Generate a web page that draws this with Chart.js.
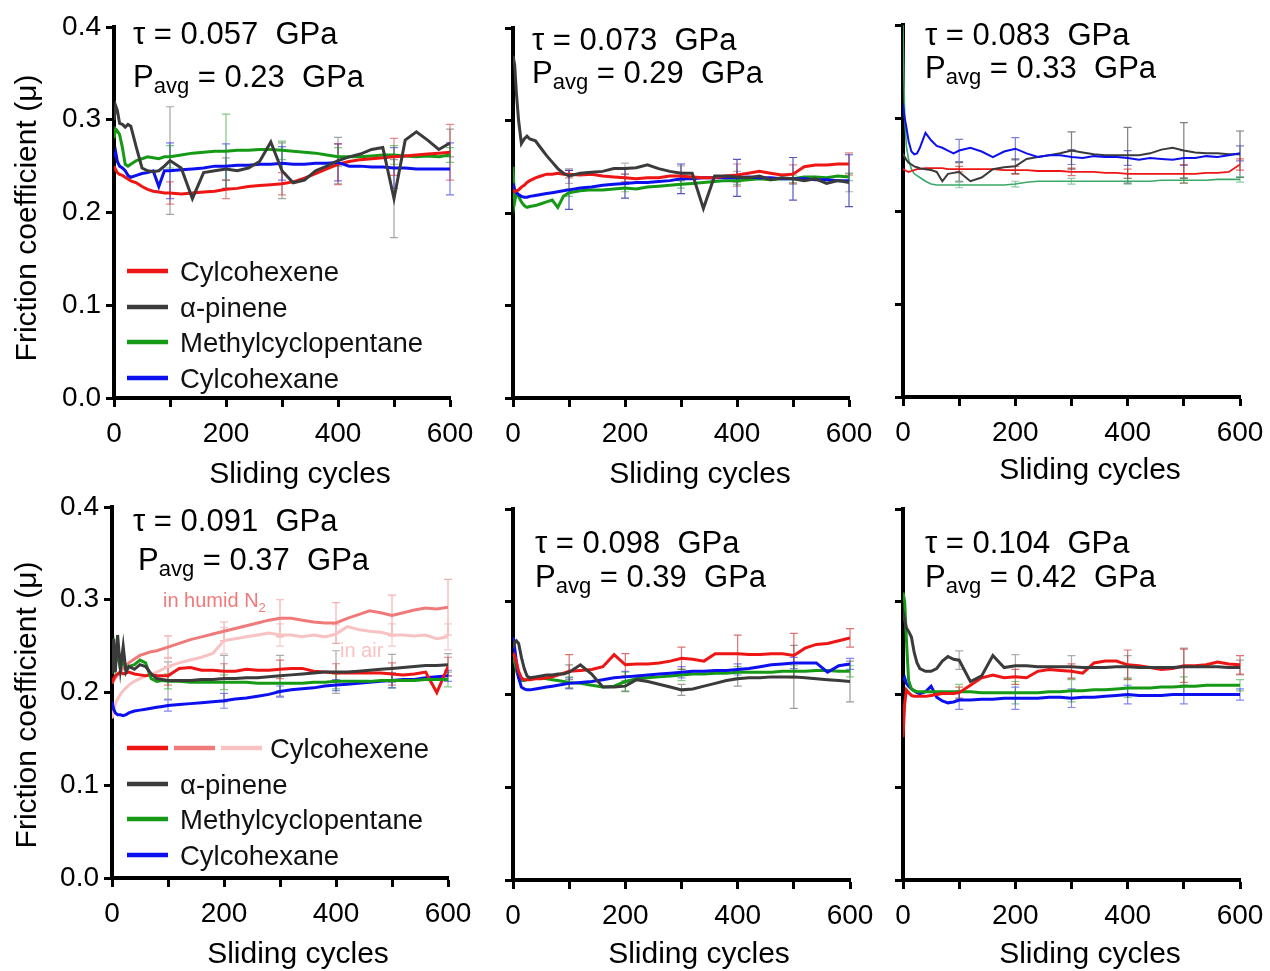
<!DOCTYPE html>
<html>
<head>
<meta charset="utf-8">
<script src="https://cdn.jsdelivr.net/npm/chart.js@4.4.1/dist/chart.umd.min.js"></script>
<style>
  html, body { margin: 0; padding: 0; background: #fff; }
  #wrap { position: relative; width: 1270px; height: 971px; overflow: hidden; }
  #wrap canvas { position: absolute; }
</style>
</head>
<body>
<div id="wrap"></div>
<script>
// sliding cycles at which every trace is sampled
const cycles = [0,3,6,10,15,20,25,30,40,50,60,70,80,90,100,120,140,160,180,200,220,240,260,280,300,320,340,360,380,400,420,440,460,480,500,520,540,560,580,600];
// cycles carrying an error bar
const errCycles = [100,200,300,400,500,600];
const xTicks = [0,200,400,600];
const yTicks = [0.0,0.1,0.2,0.3,0.4];

const seriesNames = ['Cylcohexene','α-pinene','Methylcyclopentane','Cylcohexane'];

// τ = 0.057 GPa
const p1Red   = [0.250,0.246,0.243,0.241,0.240,0.238,0.236,0.234,0.232,0.228, 0.225,0.223,0.222,0.221,0.221, 0.220,0.221,0.222,0.223,0.225, 0.226,0.228,0.229,0.230,0.231, 0.233,0.237,0.242,0.247,0.252, 0.255,0.257,0.258,0.259,0.260, 0.261,0.262,0.263,0.264,0.265];
const p1Black = [0.300,0.315,0.310,0.296,0.295,0.292,0.295,0.293,0.270,0.248, 0.245,0.244,0.245,0.250,0.256, 0.248,0.215,0.243,0.245,0.247, 0.245,0.248,0.255,0.276,0.245, 0.232,0.235,0.245,0.250,0.256, 0.260,0.263,0.268,0.270,0.215, 0.278,0.287,0.278,0.268,0.275];
const p1Green = [0.280,0.290,0.288,0.284,0.270,0.252,0.250,0.252,0.256,0.258, 0.260,0.259,0.258,0.260,0.260, 0.262,0.264,0.265,0.266,0.266, 0.267,0.267,0.268,0.268,0.267, 0.266,0.265,0.264,0.262,0.260, 0.260,0.260,0.261,0.262,0.262, 0.261,0.260,0.261,0.260,0.262];
const p1Blue  = [0.260,0.265,0.255,0.250,0.248,0.245,0.240,0.238,0.240,0.242, 0.243,0.245,0.228,0.245,0.245, 0.246,0.247,0.248,0.250,0.250, 0.251,0.251,0.252,0.252,0.253, 0.252,0.252,0.253,0.253,0.254, 0.250,0.250,0.249,0.249,0.248, 0.248,0.247,0.247,0.247,0.247];
const p1RedErr   = [0.012,0.010,0.012,0.022,0.020,0.030];
const p1BlackErr = [0.058,0.012,0.030,0.025,0.042,0.015];
const p1GreenErr = [0.012,0.040,0.010,0.010,0.010,0.008];
const p1BlueErr  = [0.030,0.024,0.018,0.020,0.022,0.028];

// τ = 0.073 GPa
const p2Red   = [0.225,0.223,0.224,0.225,0.228,0.230,0.233,0.235,0.238,0.240, 0.242,0.242,0.243,0.242,0.242, 0.241,0.242,0.240,0.239,0.238, 0.237,0.238,0.238,0.240,0.240, 0.239,0.238,0.238,0.240,0.241, 0.243,0.245,0.243,0.241,0.242, 0.250,0.252,0.252,0.253,0.253];
const p2Black = [0.370,0.360,0.330,0.300,0.275,0.280,0.283,0.280,0.278,0.270, 0.262,0.255,0.248,0.243,0.240, 0.243,0.244,0.245,0.248,0.248, 0.249,0.252,0.248,0.245,0.243, 0.243,0.205,0.240,0.240,0.239, 0.238,0.240,0.236,0.238,0.237, 0.235,0.237,0.232,0.235,0.233];
const p2Green = [0.250,0.212,0.222,0.218,0.212,0.208,0.206,0.207,0.208,0.210, 0.212,0.214,0.206,0.218,0.222, 0.224,0.225,0.225,0.226,0.227, 0.226,0.228,0.229,0.230,0.231, 0.232,0.233,0.234,0.235,0.235, 0.236,0.237,0.236,0.237,0.237, 0.239,0.239,0.238,0.240,0.239];
const p2Blue  = [0.232,0.225,0.222,0.220,0.218,0.217,0.217,0.218,0.219,0.220, 0.221,0.222,0.223,0.224,0.225, 0.227,0.228,0.230,0.231,0.232, 0.233,0.233,0.234,0.235,0.237, 0.237,0.238,0.238,0.238,0.238, 0.239,0.238,0.238,0.237,0.237, 0.237,0.236,0.236,0.235,0.235];
const p2RedErr   = [0.004,0.004,0.004,0.012,0.010,0.012];
const p2BlackErr = [0.008,0.006,0.008,0.006,0.006,0.010];
const p2GreenErr = [0.004,0.004,0.004,0.004,0.004,0.004];
const p2BlueErr  = [0.021,0.016,0.016,0.020,0.023,0.028];

// τ = 0.083 GPa
const p3Red   = [0.245,0.244,0.243,0.242,0.243,0.244,0.245,0.245,0.246,0.246, 0.246,0.246,0.245,0.245,0.245, 0.245,0.245,0.245,0.244,0.244, 0.244,0.243,0.243,0.243,0.242, 0.242,0.242,0.241,0.241,0.240, 0.240,0.240,0.240,0.240,0.240, 0.240,0.241,0.241,0.242,0.250];
const p3Black = [0.262,0.258,0.255,0.252,0.250,0.248,0.247,0.246,0.245,0.244, 0.242,0.232,0.240,0.241,0.242, 0.232,0.236,0.245,0.247,0.248, 0.256,0.258,0.260,0.262,0.265, 0.263,0.261,0.260,0.260,0.260, 0.260,0.262,0.266,0.268,0.265, 0.263,0.262,0.262,0.261,0.261];
const p3Green = [0.400,0.300,0.270,0.255,0.245,0.240,0.238,0.236,0.232,0.229, 0.228,0.228,0.228,0.228,0.228, 0.228,0.228,0.228,0.228,0.229, 0.231,0.232,0.232,0.232,0.232, 0.232,0.232,0.232,0.232,0.232, 0.232,0.232,0.233,0.233,0.233, 0.233,0.233,0.234,0.234,0.234];
const p3Blue  = [0.316,0.300,0.290,0.275,0.264,0.261,0.262,0.268,0.284,0.276, 0.270,0.268,0.265,0.262,0.265, 0.268,0.264,0.258,0.264,0.267, 0.262,0.258,0.260,0.260,0.258, 0.257,0.259,0.258,0.258,0.257, 0.255,0.257,0.256,0.255,0.257, 0.257,0.259,0.258,0.260,0.262];
const p3RedErr   = [0.003,0.004,0.004,0.005,0.010,0.006];
const p3BlackErr = [0.010,0.008,0.020,0.030,0.030,0.025];
const p3GreenErr = [0.003,0.003,0.003,0.003,0.003,0.003];
const p3BlueErr  = [0.012,0.012,0.008,0.008,0.008,0.008];

// τ = 0.091 GPa (cyclohexene also run in humid N2 and in air)
const p4Red   = [0.210,0.215,0.218,0.220,0.222,0.220,0.221,0.222,0.220,0.219, 0.218,0.219,0.218,0.218,0.218, 0.226,0.227,0.224,0.224,0.223, 0.223,0.225,0.224,0.224,0.225, 0.226,0.226,0.223,0.222,0.221, 0.221,0.221,0.221,0.221,0.220, 0.219,0.220,0.222,0.200,0.228];
const p4Humid = [0.210,0.213,0.216,0.219,0.223,0.226,0.229,0.232,0.236,0.240, 0.242,0.244,0.245,0.247,0.249, 0.253,0.257,0.260,0.263,0.266, 0.269,0.272,0.275,0.278,0.280, 0.280,0.278,0.276,0.275,0.275, 0.280,0.284,0.288,0.286,0.283, 0.286,0.289,0.291,0.290,0.292];
const p4Air   = [0.172,0.180,0.188,0.193,0.198,0.202,0.205,0.208,0.212,0.215, 0.218,0.220,0.222,0.225,0.228, 0.232,0.235,0.238,0.242,0.256, 0.258,0.260,0.262,0.264,0.262, 0.262,0.260,0.262,0.260,0.263, 0.271,0.268,0.266,0.265,0.262, 0.262,0.261,0.262,0.258,0.260];
const p4Black = [0.220,0.258,0.222,0.262,0.225,0.250,0.222,0.228,0.225,0.230, 0.228,0.220,0.215,0.214,0.213, 0.213,0.213,0.214,0.214,0.215, 0.215,0.216,0.216,0.217,0.218, 0.219,0.220,0.221,0.222,0.222, 0.222,0.223,0.224,0.225,0.226, 0.227,0.228,0.229,0.229,0.230];
const p4Green = [0.240,0.250,0.230,0.245,0.225,0.235,0.225,0.228,0.230,0.235, 0.232,0.215,0.212,0.213,0.212, 0.212,0.211,0.211,0.211,0.211, 0.211,0.211,0.210,0.210,0.210, 0.210,0.210,0.211,0.211,0.212, 0.212,0.212,0.212,0.213,0.213, 0.213,0.213,0.214,0.214,0.214];
const p4Blue  = [0.190,0.182,0.178,0.176,0.176,0.175,0.176,0.178,0.180,0.181, 0.182,0.183,0.184,0.185,0.186, 0.187,0.188,0.189,0.190,0.191, 0.193,0.194,0.196,0.198,0.201, 0.203,0.204,0.205,0.207,0.208, 0.209,0.210,0.211,0.212,0.213, 0.214,0.214,0.216,0.217,0.218];
const p4RedErr   = [0.010,0.008,0.010,0.010,0.012,0.010];
const p4HumidErr = [0.012,0.010,0.020,0.022,0.022,0.030];
const p4AirErr   = [0.010,0.014,0.012,0.010,0.012,0.014];
const p4BlackErr = [0.020,0.025,0.022,0.023,0.015,0.012];
const p4GreenErr = [0.008,0.008,0.008,0.008,0.008,0.008];
const p4BlueErr  = [0.006,0.008,0.006,0.006,0.008,0.006];

// τ = 0.098 GPa
const p5Red   = [0.245,0.242,0.235,0.225,0.218,0.216,0.216,0.216,0.217,0.217, 0.218,0.219,0.221,0.223,0.225, 0.226,0.227,0.230,0.243,0.232, 0.233,0.233,0.234,0.236,0.239, 0.238,0.236,0.244,0.244,0.244, 0.243,0.243,0.244,0.244,0.242, 0.250,0.254,0.255,0.258,0.261];
const p5Black = [0.250,0.256,0.258,0.255,0.240,0.228,0.220,0.218,0.219,0.220, 0.221,0.221,0.222,0.222,0.224, 0.232,0.222,0.208,0.208,0.209, 0.216,0.214,0.211,0.208,0.205, 0.206,0.209,0.212,0.215,0.217, 0.218,0.218,0.219,0.219,0.219, 0.218,0.217,0.216,0.215,0.214];
const p5Green = [0.245,0.235,0.226,0.218,0.215,0.215,0.216,0.217,0.218,0.218, 0.217,0.216,0.215,0.214,0.213, 0.212,0.210,0.208,0.209,0.214, 0.217,0.218,0.219,0.220,0.221, 0.222,0.222,0.223,0.223,0.224, 0.224,0.224,0.224,0.225,0.225, 0.225,0.226,0.226,0.225,0.225];
const p5Blue  = [0.262,0.250,0.235,0.218,0.208,0.206,0.205,0.205,0.206,0.207, 0.208,0.209,0.210,0.211,0.212, 0.213,0.214,0.216,0.218,0.219, 0.220,0.221,0.222,0.223,0.224, 0.225,0.225,0.226,0.226,0.227, 0.228,0.230,0.232,0.233,0.234, 0.234,0.234,0.224,0.231,0.233];
const p5RedErr   = [0.018,0.012,0.012,0.020,0.024,0.010];
const p5BlackErr = [0.008,0.006,0.006,0.008,0.034,0.022];
const p5GreenErr = [0.006,0.010,0.006,0.006,0.006,0.006];
const p5BlueErr  = [0.006,0.006,0.006,0.006,0.006,0.006];

// τ = 0.104 GPa
const p6Red   = [0.154,0.190,0.205,0.202,0.199,0.198,0.198,0.198,0.198,0.199, 0.200,0.201,0.201,0.201,0.202, 0.210,0.218,0.221,0.218,0.219, 0.218,0.225,0.227,0.226,0.225, 0.223,0.234,0.236,0.236,0.232, 0.231,0.229,0.227,0.228,0.231, 0.231,0.232,0.235,0.233,0.232];
const p6Black = [0.290,0.280,0.272,0.268,0.262,0.245,0.234,0.228,0.225,0.225, 0.228,0.236,0.241,0.238,0.237, 0.214,0.220,0.242,0.229,0.231, 0.231,0.230,0.230,0.230,0.230, 0.229,0.229,0.229,0.230,0.230, 0.229,0.229,0.229,0.229,0.230, 0.230,0.230,0.230,0.229,0.229];
const p6Green = [0.310,0.300,0.260,0.215,0.206,0.204,0.203,0.203,0.203,0.203, 0.203,0.203,0.203,0.203,0.203, 0.203,0.202,0.202,0.202,0.202, 0.202,0.202,0.203,0.203,0.204, 0.204,0.205,0.205,0.206,0.207, 0.207,0.207,0.208,0.208,0.209, 0.209,0.210,0.210,0.210,0.210];
const p6Blue  = [0.215,0.218,0.212,0.209,0.206,0.204,0.202,0.201,0.203,0.209, 0.197,0.193,0.191,0.192,0.194, 0.194,0.195,0.195,0.196,0.196, 0.196,0.196,0.197,0.197,0.196, 0.197,0.197,0.198,0.199,0.200, 0.199,0.199,0.199,0.200,0.200, 0.200,0.200,0.200,0.200,0.200];
const p6RedErr   = [0.006,0.008,0.008,0.016,0.018,0.010];
const p6BlackErr = [0.010,0.012,0.012,0.012,0.020,0.008];
const p6GreenErr = [0.008,0.012,0.012,0.010,0.010,0.006];
const p6BlueErr  = [0.010,0.012,0.010,0.010,0.010,0.006];

const RED = '#ee1515', DARK = '#3b3b3b', GREEN = '#169a16', BLUE = '#0c10ee';
const HUMID = '#f07a7a', AIR = '#f8c2c2', SEA = '#3aa866';
const FONT = '"Liberation Sans", Arial, sans-serif';

Chart.defaults.font.family = FONT;
Chart.defaults.color = '#000';

function trace(label, values, color, err, errColor, width) {
  return {
    label,
    data: cycles.map((c, i) => ({ x: c, y: values[i] })),
    borderColor: color,
    borderWidth: width || 3,
    pointRadius: 0,
    tension: 0,
    err,
    errColor,
  };
}

const legendRows = (y0, first) => [
  { y: y0,      colors: first, label: seriesNames[0] },
  { y: y0 + 36, colors: [DARK],  label: seriesNames[1] },
  { y: y0 + 71, colors: [GREEN], label: seriesNames[2] },
  { y: y0 + 107, colors: [BLUE], label: seriesNames[3] },
];

// area = [left, right, top, bottom] of the plotting box on the page
// at = [x, y] baselines of the two label lines; xt/yt = axis title centres
const panels = [
  { area: [114, 450, 27, 398], yLabels: true, tau: '0.057', pavg: '0.23', at: [133, 44, 133, 87],
    xt: [300, 475], yt: [28, 218],
    legend: { rows: legendRows(271, [RED]) },
    series: [
      trace(seriesNames[1], p1Black, DARK, p1BlackErr, 'rgba(90,90,90,0.55)'),
      trace(seriesNames[3], p1Blue, BLUE, p1BlueErr, 'rgba(12,16,238,0.55)'),
      trace(seriesNames[0], p1Red, RED, p1RedErr, 'rgba(200,20,20,0.5)'),
      trace(seriesNames[2], p1Green, GREEN, p1GreenErr, 'rgba(22,154,22,0.55)'),
    ] },
  { area: [513, 849, 28, 398], yLabels: false, tau: '0.073', pavg: '0.29', at: [532, 50, 532, 83],
    xt: [700, 475],
    series: [
      trace(seriesNames[1], p2Black, DARK, p2BlackErr, 'rgba(90,90,90,0.45)'),
      trace(seriesNames[0], p2Red, RED, p2RedErr, 'rgba(200,20,20,0.5)'),
      trace(seriesNames[3], p2Blue, BLUE, p2BlueErr, 'rgba(30,30,170,0.75)'),
      trace(seriesNames[2], p2Green, GREEN, p2GreenErr, 'rgba(22,154,22,0.5)'),
    ] },
  { area: [903, 1240, 25, 397], yLabels: false, tau: '0.083', pavg: '0.33', at: [925, 45, 925, 78],
    xt: [1090, 471],
    series: [
      trace(seriesNames[3], p3Blue, BLUE, p3BlueErr, 'rgba(40,40,190,0.6)', 2),
      trace(seriesNames[1], p3Black, DARK, p3BlackErr, 'rgba(70,70,70,0.7)', 2),
      trace(seriesNames[0], p3Red, RED, p3RedErr, 'rgba(200,20,20,0.6)', 1.8),
      trace(seriesNames[2], p3Green, SEA, p3GreenErr, 'rgba(58,168,102,0.6)', 1.6),
    ] },
  { area: [112, 448, 507, 878], yLabels: true, tau: '0.091', pavg: '0.37', at: [133, 531, 138, 570],
    xt: [298, 955], yt: [28, 705],
    legend: { rows: legendRows(748, [RED, HUMID, AIR]) },
    marks: [
      { text: 'in humid N', sub: '2', x: 163, y: 607, color: HUMID },
      { text: 'in air', x: 340, y: 657, color: AIR },
    ],
    series: [
      trace(seriesNames[1], p4Black, DARK, p4BlackErr, 'rgba(90,90,90,0.5)'),
      trace(seriesNames[2], p4Green, GREEN, p4GreenErr, 'rgba(22,154,22,0.5)'),
      trace(seriesNames[0], p4Red, RED, p4RedErr, 'rgba(200,20,20,0.5)'),
      trace(seriesNames[3], p4Blue, BLUE, p4BlueErr, 'rgba(12,16,238,0.5)'),
      trace('in humid N2', p4Humid, HUMID, p4HumidErr, 'rgba(240,122,122,0.6)'),
      trace('in air', p4Air, AIR, p4AirErr, 'rgba(240,170,170,0.6)'),
    ] },
  { area: [513, 850, 509, 880], yLabels: false, tau: '0.098', pavg: '0.39', at: [535, 553, 535, 587],
    xt: [699, 955],
    series: [
      trace(seriesNames[1], p5Black, DARK, p5BlackErr, 'rgba(90,90,90,0.6)'),
      trace(seriesNames[0], p5Red, RED, p5RedErr, 'rgba(200,20,20,0.6)'),
      trace(seriesNames[3], p5Blue, BLUE, p5BlueErr, 'rgba(12,16,238,0.5)'),
      trace(seriesNames[2], p5Green, GREEN, p5GreenErr, 'rgba(22,154,22,0.5)'),
    ] },
  { area: [903, 1240, 509, 880], yLabels: false, tau: '0.104', pavg: '0.42', at: [925, 553, 925, 587],
    xt: [1090, 955],
    series: [
      trace(seriesNames[1], p6Black, DARK, p6BlackErr, 'rgba(90,90,90,0.5)'),
      trace(seriesNames[0], p6Red, RED, p6RedErr, 'rgba(200,20,20,0.6)'),
      trace(seriesNames[2], p6Green, GREEN, p6GreenErr, 'rgba(22,154,22,0.5)'),
      trace(seriesNames[3], p6Blue, BLUE, p6BlueErr, 'rgba(12,16,238,0.5)'),
    ] },
];

function drawRuns(ctx, x, y, runs, color) {
  ctx.fillStyle = color;
  ctx.textAlign = 'left';
  ctx.textBaseline = 'alphabetic';
  runs.forEach(r => {
    ctx.font = `${r.size}px ${FONT}`;
    ctx.fillText(r.t, x, y + (r.dy || 0));
    x += ctx.measureText(r.t).width;
  });
}

// error bars under the traces; titles, labels and legend on top
const decor = {
  id: 'decor',
  beforeDatasetsDraw(chart) {
    const { ctx, scales: { x, y } } = chart;
    ctx.save();
    ctx.lineWidth = 1.2;
    chart.data.datasets.forEach(ds => {
      if (!ds.err) return;
      ctx.strokeStyle = ds.errColor;
      errCycles.forEach((c, k) => {
        const v = ds.data[cycles.indexOf(c)].y;
        const px = x.getPixelForValue(c);
        const lo = y.getPixelForValue(v - ds.err[k]);
        const hi = y.getPixelForValue(v + ds.err[k]);
        ctx.beginPath();
        ctx.moveTo(px, lo); ctx.lineTo(px, hi);
        ctx.moveTo(px - 4, lo); ctx.lineTo(px + 4, lo);
        ctx.moveTo(px - 4, hi); ctx.lineTo(px + 4, hi);
        ctx.stroke();
      });
    });
    ctx.restore();
  },
  afterDraw(chart, args, opts) {
    const { ctx } = chart;
    const p = opts.panel, ox = opts.ox, oy = opts.oy;
    ctx.save();

    // axis titles
    ctx.fillStyle = '#000';
    ctx.font = `30px ${FONT}`;
    ctx.textAlign = 'center';
    ctx.textBaseline = 'middle';
    ctx.fillText('Sliding cycles', p.xt[0] - ox, p.xt[1] - oy);
    if (p.yt) {
      ctx.save();
      ctx.translate(p.yt[0] - ox, p.yt[1] - oy);
      ctx.rotate(-Math.PI / 2);
      ctx.fillText('Friction coefficient (μ)', 0, 0);
      ctx.restore();
    }

    const [x1, y1, x2, y2] = p.at;
    drawRuns(ctx, x1 - ox, y1 - oy, [{ t: 'τ = ' + p.tau + '  GPa', size: 31 }], '#000');
    drawRuns(ctx, x2 - ox, y2 - oy, [
      { t: 'P', size: 31 },
      { t: 'avg', size: 22, dy: 6 },
      { t: ' = ' + p.pavg + '  GPa', size: 31 },
    ], '#000');
    (p.marks || []).forEach(m => {
      const runs = [{ t: m.text, size: 20 }];
      if (m.sub) runs.push({ t: m.sub, size: 13, dy: 5 });
      drawRuns(ctx, m.x - ox, m.y - oy, runs, m.color);
    });
    if (p.legend) {
      p.legend.rows.forEach(r => {
        ctx.lineWidth = 4.5;
        r.colors.forEach((c, i) => {
          ctx.strokeStyle = c;
          ctx.beginPath();
          ctx.moveTo(127 + i * 47 - ox, r.y - oy);
          ctx.lineTo(168 + i * 47 - ox, r.y - oy);
          ctx.stroke();
        });
        const tx = r.colors.length > 1 ? 270 : 180;
        drawRuns(ctx, tx - ox, r.y + 10 - oy, [{ t: r.label, size: 27.5 }], '#111');
      });
    }
    ctx.restore();
  },
};

const wrap = document.getElementById('wrap');

panels.forEach(p => {
  const [L, R, T, B] = p.area;
  const yW = p.yLabels ? L : 30;
  const padT = 26, padR = 40, xH = 95;
  const ox = L - yW, oy = T - padT;
  const canvas = document.createElement('canvas');
  canvas.width = R - L + yW + padR;
  canvas.height = B - T + padT + xH;
  canvas.style.left = ox + 'px';
  canvas.style.top = oy + 'px';
  wrap.appendChild(canvas);

  new Chart(canvas, {
    type: 'line',
    data: { datasets: p.series },
    plugins: [decor],
    options: {
      responsive: false,
      animation: false,
      devicePixelRatio: 1,
      layout: { padding: { top: padT, right: padR, left: 0, bottom: 0 }, autoPadding: false },
      plugins: {
        legend: { display: false },
        tooltip: { enabled: false },
        decor: { panel: p, ox, oy },
      },
      scales: {
        x: {
          type: 'linear',
          min: 0, max: 600,
          afterFit: s => { s.height = xH; },
          border: { display: true, color: '#000', width: 4 },
          grid: { drawOnChartArea: false, drawTicks: true, tickLength: 9, tickWidth: 3, tickColor: '#000' },
          ticks: {
            stepSize: 100,
            padding: 10,
            font: { size: 28 },
            color: '#000',
            callback: v => (xTicks.includes(v) ? String(v) : ''),
          },
        },
        y: {
          min: 0, max: 0.4,
          afterFit: s => { s.width = yW; },
          border: { display: true, color: '#000', width: 4 },
          grid: { drawOnChartArea: false, drawTicks: true, tickLength: 8, tickWidth: 3, tickColor: '#000' },
          ticks: {
            stepSize: 0.1,
            padding: 5,
            font: { size: 28 },
            color: '#000',
            callback: v => (p.yLabels ? yTicks.find(t => Math.abs(t - v) < 1e-6).toFixed(1) : ''),
          },
        },
      },
    },
  });
});
</script>
</body>
</html>
